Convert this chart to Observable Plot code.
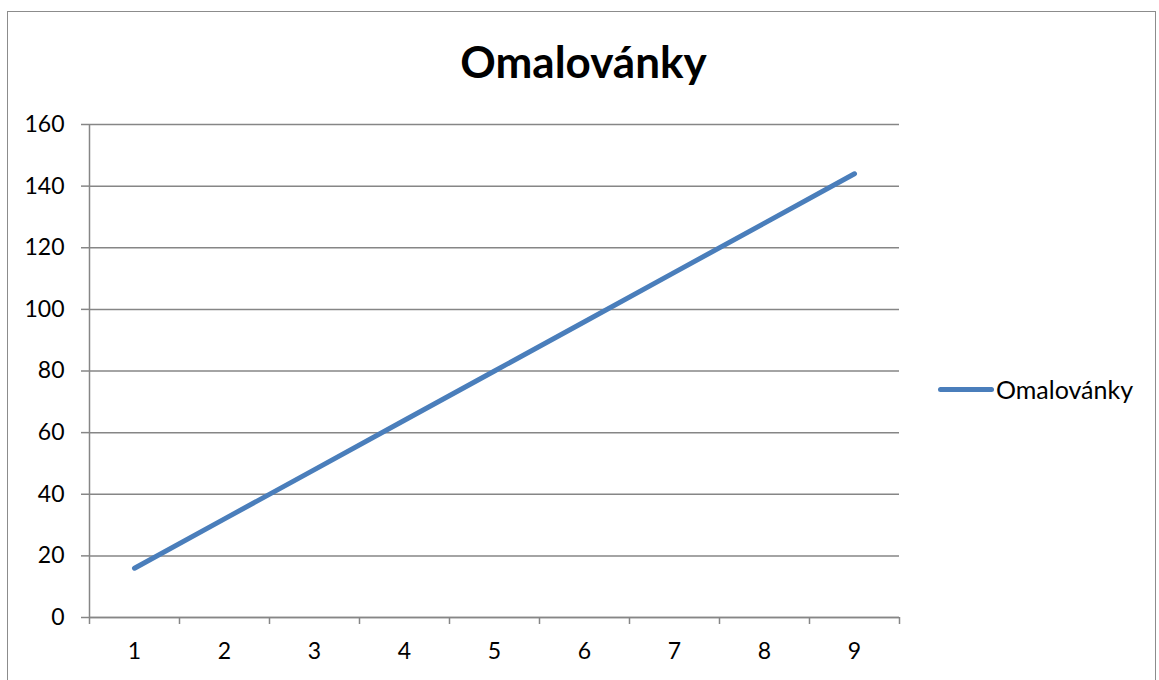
<!DOCTYPE html>
<html>
<head>
<meta charset="utf-8">
<script src="https://cdn.jsdelivr.net/npm/d3@7"></script>
<script src="https://cdn.jsdelivr.net/npm/@observablehq/plot@0.6"></script>
<style>
  html, body { margin: 0; padding: 0; background: #fff; overflow: hidden; }
  #wrap { position: relative; width: 1159px; height: 680px; font-family: Lato, "Open Sans", sans-serif; }
  #border { position: absolute; left: 7px; top: 11px; width: 1149px; height: 700px; border: 1.5px solid #8c8c8c; box-sizing: border-box; }
  #title { position: absolute; left: 0; top: 36px; width: 1167px; text-align: center; font-weight: bold; font-size: 44px; line-height: 50px; color: #000; }
  #legend { position: absolute; left: 938px; top: 374px; height: 30px; display: flex; align-items: center; font-size: 25px; color: #000; }
  #legend .sw { width: 56px; height: 5px; border-radius: 3px; background: #4A7EBB; margin-right: 2px; }
  #chart { position: absolute; left: 0; top: 0; }
</style>
</head>
<body>
<div id="wrap">
  <div id="border"></div>
  <div id="title">Omalovánky</div>
  <div id="chart"></div>
  <div id="legend"><span class="sw"></span><span id="legtext">Omalovánky</span></div>
</div>
<script>
const seriesName = "Omalovánky";
const categories = [1, 2, 3, 4, 5, 6, 7, 8, 9];
const values = [16, 32, 48, 64, 80, 96, 112, 128, 144];
const yTicks = [0, 20, 40, 60, 80, 100, 120, 140, 160];

const boundaries = [categories[0] - 0.5, ...categories.map(c => c + 0.5)];
const axisColor = "#868686";

const chart = Plot.plot({
  width: 1159,
  height: 680,
  marginLeft: 89,
  marginRight: 260,
  marginTop: 124,
  marginBottom: 63,
  x: { type: "linear", domain: [boundaries[0], boundaries[boundaries.length - 1]] },
  y: { domain: [0, 160] },
  style: { fontFamily: "Lato, 'Open Sans', sans-serif", fontSize: "23px", color: "#000", background: "transparent", overflow: "visible" },
  marks: [
    Plot.gridY(yTicks, { stroke: axisColor, strokeOpacity: 1, strokeWidth: 1.5 }),
    Plot.axisY({ ticks: yTicks, tickSize: 8, tickPadding: 17, stroke: axisColor, strokeWidth: 1.5, label: null, fill: "#000" }),
    Plot.ruleX([boundaries[0]], { y1: 0, y2: 160, stroke: axisColor, strokeWidth: 1.5 }),
    Plot.ruleY([0], { stroke: axisColor, strokeWidth: 1.5 }),
    Plot.axisX({ ticks: boundaries, tickSize: 7, tickFormat: () => "", stroke: axisColor, strokeWidth: 1.5, label: null }),
    Plot.axisX({ ticks: categories, tickSize: 0, tickPadding: 25, label: null, fill: "#000" }),
    Plot.lineY(values, { x: categories, y: values, stroke: "#4A7EBB", strokeWidth: 5, strokeLinecap: "round", strokeLinejoin: "round" })
  ]
});
document.getElementById("chart").appendChild(chart);
</script>
</body>
</html>
